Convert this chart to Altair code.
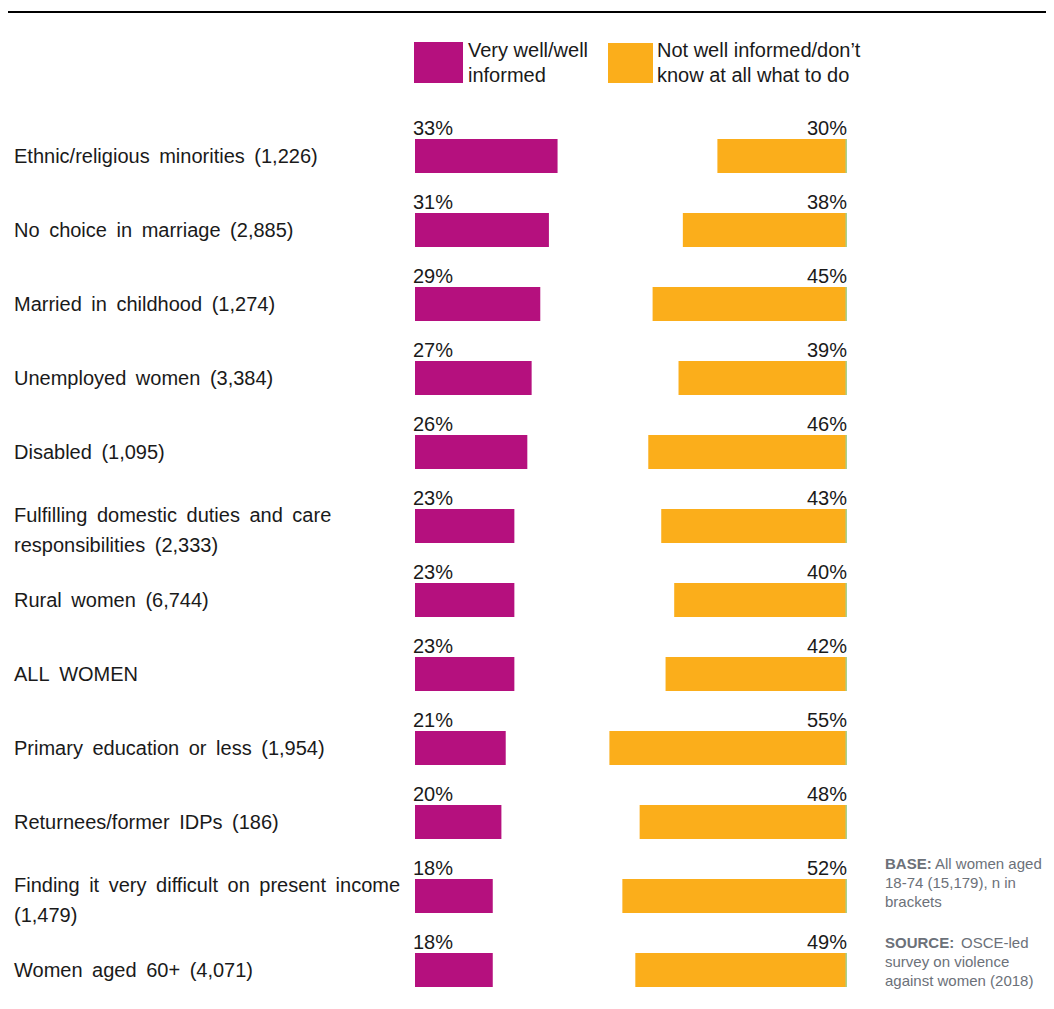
import altair as alt
import pandas as pd

categories = [
    "Ethnic/religious minorities (1,226)",
    "No choice in marriage (2,885)",
    "Married in childhood (1,274)",
    "Unemployed women (3,384)",
    "Disabled (1,095)",
    "Fulfilling domestic duties and care\nresponsibilities (2,333)",
    "Rural women (6,744)",
    "ALL WOMEN",
    "Primary education or less (1,954)",
    "Returnees/former IDPs (186)",
    "Finding it very difficult on present income\n(1,479)",
    "Women aged 60+ (4,071)",
]
well_informed = [33, 31, 29, 27, 26, 23, 23, 23, 21, 20, 18, 18]
not_well_informed = [30, 38, 45, 39, 46, 43, 40, 42, 55, 48, 52, 49]

legend_well = "Very well/well\ninformed"
legend_not = "Not well informed/don\u2019t\nknow at all what to do"
base_bold = "BASE:"
base_rest_1 = "All women aged"
base_rest_2 = "18-74 (15,179), n in\nbrackets"
source_bold = "SOURCE:"
source_rest_1 = "OSCE-led"
source_rest_2 = "survey on violence\nagainst women (2018)"

MAG = "#b5107e"
ORG = "#fbae1b"
GREEN = "#a9d18e"
TXT = "#1a1a1a"
GREY = "#6c7179"
FONT = "Liberation Sans"

keys = [f"r{i}" for i in range(len(categories))]
# slightly wider word gaps, as in the original typesetting
display_labels = [c.replace(" ", "\u00a0\u2009") for c in categories]
df = pd.DataFrame({
    "key": keys,
    "label": display_labels,
    "multi": ["\n" in c for c in categories],
    "well": well_informed,
    "notwell": not_well_informed,
})

W = 432
H = 870

y_enc = alt.Y("key:N", sort=keys, axis=None,
              scale=alt.Scale(range=[0, 888], paddingInner=0, paddingOuter=0))
xs = alt.Scale(domain=[0, 100], nice=False, zero=True)

base = alt.Chart(df)

bars_well = base.mark_bar(color=MAG, size=34).encode(
    x=alt.X("well:Q", scale=xs, axis=None), y=y_enc)

calc = base.transform_calculate(
    start="100 - datum.notwell", end="100", gstart="99.65")

bars_not = calc.mark_bar(color=ORG, size=34).encode(
    x=alt.X("start:Q", scale=xs, axis=None), x2="end:Q", y=y_enc)

green = calc.mark_bar(color=GREEN, size=34).encode(
    x=alt.X("gstart:Q", scale=xs, axis=None), x2="end:Q", y=y_enc)

lab_well = base.transform_calculate(t="datum.well + '%'").mark_text(
    align="left", baseline="alphabetic", dy=-21, fontSize=20, font=FONT, color=TXT
).encode(x=alt.value(-2), y=y_enc, text="t:N")

lab_not = base.transform_calculate(t="datum.notwell + '%'").mark_text(
    align="right", baseline="alphabetic", dy=-21, fontSize=20, font=FONT, color=TXT
).encode(x=alt.value(432), y=y_enc, text="t:N")

cat_single = base.transform_filter("!datum.multi").mark_text(
    align="left", baseline="middle", dy=1, fontSize=20, font=FONT, color=TXT
).encode(x=alt.value(-401), y=y_enc, text="label:N")

cat_multi = base.transform_filter("datum.multi").mark_text(
    align="left", baseline="middle", dy=-10, fontSize=20, font=FONT, color=TXT,
    lineBreak="\n", lineHeight=29.5
).encode(x=alt.value(-401), y=y_enc, text="label:N")

one = pd.DataFrame({"a": [0]})


def rect(x, x2, y, y2, color):
    return alt.Chart(one).mark_rect(color=color).encode(
        x=alt.value(x), x2=alt.value(x2), y=alt.value(y), y2=alt.value(y2))


def txt(s, x, y, size=20, color=TXT, bold=False, lh=25, baseline="alphabetic"):
    return alt.Chart(one).mark_text(
        align="left", baseline=baseline, fontSize=size, font=FONT, color=color,
        fontWeight="bold" if bold else "normal", lineBreak="\n", lineHeight=lh
    ).encode(x=alt.value(x), y=alt.value(y), text=alt.value(s))


legend_layers = [
    rect(-1, 48, -77, -36, MAG),
    rect(193, 238, -76, -36, ORG),
    txt(legend_well, 53, -62),
    txt(legend_not, 242, -62),
]

FS = 15
foot_layers = [
    txt(base_bold, 470, 745, size=FS, color=GREY, bold=True, baseline="middle"),
    txt(base_rest_1, 520, 745, size=FS, color=GREY, baseline="middle"),
    txt(base_rest_2, 470, 764, size=FS, color=GREY, lh=19, baseline="middle"),
    txt(source_bold, 470, 824, size=FS, color=GREY, bold=True, baseline="middle"),
    txt(source_rest_1, 546, 824, size=FS, color=GREY, baseline="middle"),
    txt(source_rest_2, 470, 843, size=FS, color=GREY, lh=19, baseline="middle"),
]

top_rule = alt.Chart(one).mark_rule(color="#000000", strokeWidth=2).encode(
    x=alt.value(-407), x2=alt.value(631), y=alt.value(-107))

chart = alt.layer(
    top_rule, bars_well, bars_not, green, lab_well, lab_not, cat_single, cat_multi,
    *legend_layers, *foot_layers
).properties(
    width=W, height=H,
    padding={"left": 407, "top": 111, "right": 199, "bottom": 0},
    autosize=alt.AutoSizeParams(type="none"),
).configure_view(stroke=None)

chart.save("out.html", embed_options={"renderer": "svg", "actions": False})
